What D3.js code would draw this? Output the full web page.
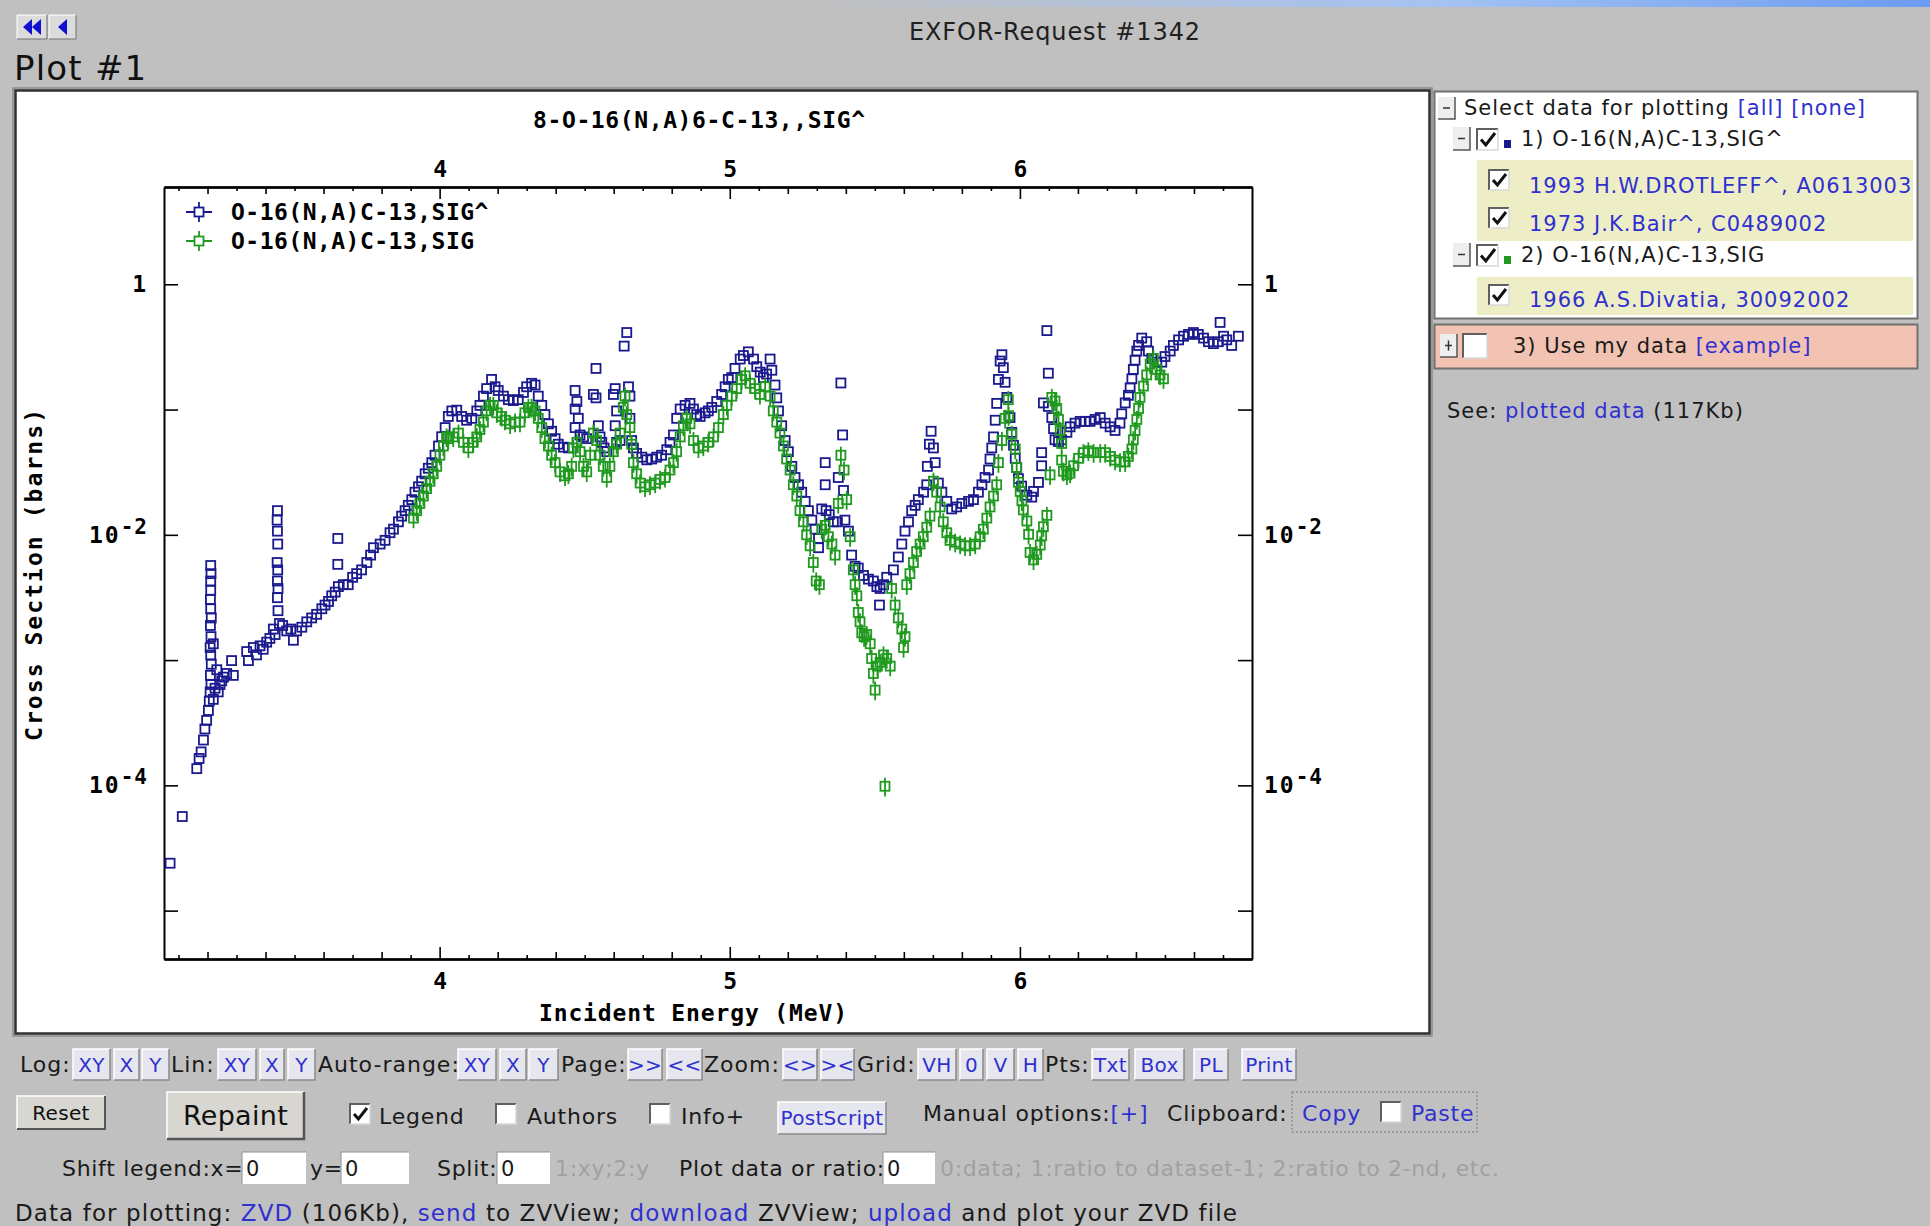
<!DOCTYPE html>
<html>
<head>
<meta charset="utf-8">
<script src="https://cdn.jsdelivr.net/npm/d3@7"></script>
<style>
body { margin: 0; background: #c0c0c0; }
svg { display: block; }
</style>
</head>
<body>
<script>
// O-16(N,A)C-13,SIG^  (1993 Drotleff + 1973 Bair), [E MeV, sigma barns]
var sigHatPoints = [
  [3.071,2.39e-5],[3.113,5.64e-5],[3.163,1.36e-4],[3.171,1.64e-4],[3.178,1.85e-4],[3.186,2.30e-4],[3.191,2.82e-4],[3.197,3.30e-4],[3.203,3.96e-4],[3.206,4.70e-4],
  [3.209,5.57e-4],[3.212,6.38e-4],[3.210,7.56e-4],[3.213,9.27e-4],[3.211,1.10e-3],[3.209,1.26e-3],[3.212,1.54e-3],[3.210,1.89e-3],[3.213,2.17e-3],[3.211,2.57e-3],
  [3.210,3.05e-3],[3.211,3.61e-3],[3.211,4.28e-3],[3.212,4.90e-3],[3.211,5.69e-3],
  [3.220,4.86e-4],[3.226,5.96e-4],[3.232,8.38e-4],[3.237,5.57e-4],[3.243,6.38e-4],[3.249,6.83e-4],[3.255,7.31e-4],[3.220,1.35e-3],[3.266,7.82e-4],[3.283,9.91e-4],[3.289,7.55e-4],
  [3.335,1.17e-3],[3.341,9.91e-4],[3.358,1.26e-3],[3.369,1.10e-3],[3.381,1.30e-3],[3.392,1.22e-3],[3.404,1.39e-3],[3.415,1.49e-3],[3.427,1.77e-3],[3.433,1.60e-3],
  [3.441,1.56e-2],[3.440,1.31e-2],[3.441,1.07e-2],[3.442,8.44e-3],[3.440,6.01e-3],[3.442,5.25e-3],[3.441,4.28e-3],[3.443,3.73e-3],[3.441,3.15e-3],[3.443,2.48e-3],
  [3.448,1.96e-3],[3.459,1.89e-3],[3.473,1.71e-3],[3.487,1.77e-3],[3.496,1.44e-3],[3.507,1.71e-3],[3.525,1.83e-3],[3.542,2.02e-3],[3.559,2.17e-3],[3.576,2.32e-3],
  [3.594,2.57e-3],[3.605,2.75e-3],[3.617,2.94e-3],[3.628,3.26e-3],[3.640,3.49e-3],[3.651,3.86e-3],[3.649,9.35e-3],[3.649,5.81e-3],
  [3.668,4.00e-3],[3.685,4.00e-3],[3.700,4.58e-3],[3.714,4.90e-3],[3.731,5.25e-3],[3.749,6.01e-3],[3.762,6.89e-3],[3.772,7.89e-3],[3.795,8.44e-3],[3.812,9.04e-3],
  [3.829,1.04e-2],[3.841,1.11e-2],[3.858,1.27e-2],[3.869,1.41e-2],[3.881,1.56e-2],[3.892,1.72e-2],[3.904,1.91e-2],[3.915,2.19e-2],[3.927,2.42e-2],[3.938,2.68e-2],
  [3.950,3.07e-2],[3.961,3.40e-2],[3.973,3.77e-2],[3.984,4.32e-2],[3.996,5.12e-2],[4.007,6.07e-2],[4.019,7.18e-2],[4.030,8.81e-2],
  [4.042,9.75e-2],[4.059,9.89e-2],[4.076,8.81e-2],[4.093,8.22e-2],[4.111,8.51e-2],[4.128,9.75e-2],[4.139,0.108],[4.151,0.128],[4.162,0.147],[4.179,0.174],
  [4.191,0.152],[4.202,0.142],[4.220,0.128],[4.237,0.120],[4.254,0.118],[4.271,0.120],[4.289,0.137],[4.300,0.152],[4.317,0.162],[4.329,0.157],
  [4.340,0.128],[4.352,0.108],[4.363,9.12e-2],[4.375,7.69e-2],[4.386,6.71e-2],[4.398,5.86e-2],[4.409,5.29e-2],[4.427,5.01e-2],[4.444,4.94e-2],
  [4.467,0.142],[4.473,0.116],[4.467,0.101],[4.478,8.51e-2],[4.467,7.18e-2],[4.484,6.27e-2],[4.496,6.05e-2],[4.507,5.86e-2],[4.539,0.213],[4.530,0.132],
  [4.539,0.124],[4.547,7.43e-2],[4.553,6.05e-2],[4.559,5.47e-2],[4.567,4.94e-2],[4.576,4.61e-2],[4.599,0.132],[4.605,0.147],[4.651,0.152],[4.610,9.75e-2],
  [4.605,7.43e-2],[4.610,5.47e-2],[4.622,5.66e-2],[4.636,0.321],[4.645,0.412],[4.656,0.128],[4.656,8.51e-2],[4.662,5.66e-2],[4.668,4.94e-2],[4.679,4.47e-2],
  [4.697,4.17e-2],[4.714,3.97e-2],[4.731,4.03e-2],[4.748,4.17e-2],[4.765,4.32e-2],[4.783,4.78e-2],[4.794,5.47e-2],[4.806,6.27e-2],[4.817,8.51e-2],[4.829,0.101],
  [4.846,0.108],[4.863,0.112],[4.875,0.101],[4.886,9.12e-2],[4.898,8.81e-2],[4.915,9.42e-2],[4.926,9.75e-2],[4.938,0.104],[4.955,0.116],[4.972,0.132],
  [4.984,0.152],[4.995,0.174],[5.007,0.180],[5.018,0.213],[5.036,0.253],[5.047,0.270],[5.064,0.289],[5.082,0.253],[5.093,0.220],[5.105,0.199],
  [5.116,0.180],[5.127,0.192],[5.139,0.253],[5.145,0.206],[5.156,0.157],[5.162,0.124],[5.168,9.75e-2],[5.179,7.43e-2],[5.191,5.66e-2],[5.202,4.61e-2],
  [5.214,3.52e-2],[5.225,2.87e-2],[5.237,2.51e-2],[5.248,2.19e-2],[5.260,1.85e-2],[5.271,1.56e-2],[5.283,1.31e-2],[5.294,1.11e-2],[5.306,9.35e-3],[5.306,7.89e-3],
  [5.317,1.61e-2],[5.332,1.56e-2],[5.329,2.51e-2],[5.329,3.77e-2],[5.343,1.45e-2],[5.357,1.27e-2],[5.371,1.27e-2],[5.374,2.87e-2],[5.383,0.163],[5.389,6.27e-2],
  [5.392,2.26e-2],[5.397,1.31e-2],[5.409,1.07e-2],[5.420,6.89e-3],[5.432,5.61e-3],[5.443,5.43e-3],[5.461,4.74e-3],[5.478,4.43e-3],[5.495,4.28e-3],[5.507,3.86e-3],
  [5.518,3.73e-3],[5.516,2.75e-3],[5.530,4.00e-3],[5.541,4.58e-3],[5.564,5.25e-3],[5.581,6.65e-3],[5.593,8.44e-3],[5.604,1.07e-2],[5.616,1.27e-2],[5.627,1.56e-2],
  [5.639,1.72e-2],[5.650,1.91e-2],[5.668,2.19e-2],[5.679,2.51e-2],[5.681,3.52e-2],[5.688,5.29e-2],[5.694,6.71e-2],[5.702,4.94e-2],[5.708,3.77e-2],[5.719,2.59e-2],
  [5.731,2.19e-2],[5.748,1.85e-2],[5.765,1.61e-2],[5.782,1.67e-2],[5.800,1.78e-2],[5.823,1.85e-2],[5.840,1.91e-2],[5.857,2.19e-2],[5.869,2.51e-2],[5.880,2.87e-2],
  [5.892,3.29e-2],[5.897,4.03e-2],[5.903,4.94e-2],[5.909,6.05e-2],[5.915,8.22e-2],[5.920,0.112],[5.926,0.174],[5.932,0.244],[5.938,0.274],[5.943,0.216],
  [5.949,0.165],[5.955,0.125],[5.966,8.63e-2],[5.972,6.58e-2],[5.978,5.19e-2],[5.984,4.08e-2],[5.989,3.45e-2],[5.995,2.81e-2],[6.006,2.45e-2],[6.024,2.07e-2],
  [6.041,2.00e-2],[6.047,2.22e-2],[6.064,2.62e-2],[6.075,3.56e-2],[6.075,4.53e-2],[6.093,0.427],[6.098,0.195],[6.081,0.113],[6.098,0.106],[6.110,8.63e-2],
  [6.116,7.04e-2],[6.121,5.74e-2],[6.133,5.55e-2],[6.144,5.74e-2],[6.162,6.58e-2],[6.173,7.28e-2],[6.190,7.79e-2],[6.208,8.05e-2],[6.225,8.05e-2],[6.242,8.05e-2],
  [6.259,8.34e-2],[6.277,8.63e-2],[6.294,7.79e-2],[6.311,7.28e-2],[6.328,6.81e-2],[6.345,7.79e-2],[6.351,9.25e-2],[6.363,0.113],[6.374,0.130],[6.380,0.149],
  [6.386,0.176],[6.391,0.209],[6.397,0.248],[6.403,0.293],[6.409,0.325],[6.420,0.372],[6.437,0.348],[6.443,0.293],[6.455,0.256],[6.472,0.239],
  [6.489,0.239],[6.500,0.265],[6.518,0.293],[6.529,0.325],[6.547,0.360],[6.564,0.385],[6.581,0.398],[6.598,0.412],[6.615,0.398],[6.633,0.372],
  [6.650,0.348],[6.667,0.336],[6.684,0.348],[6.690,0.496],[6.702,0.385],[6.713,0.360],[6.730,0.325],[6.753,0.385]
];

// O-16(N,A)C-13,SIG  (1966 Divatia), [E MeV, sigma barns]
var sigPoints = [
  [3.910,1.36e-2],[3.921,1.56e-2],[3.932,1.78e-2],[3.944,2.04e-2],[3.955,2.34e-2],[3.967,2.68e-2],[3.978,3.07e-2],[3.990,3.52e-2],[4.001,4.32e-2],[4.013,5.12e-2],
  [4.024,6.05e-2],[4.030,5.86e-2],[4.047,6.05e-2],[4.065,6.49e-2],[4.082,5.47e-2],[4.099,4.94e-2],[4.116,5.47e-2],[4.128,6.05e-2],[4.139,6.93e-2],[4.151,7.94e-2],
  [4.162,9.75e-2],[4.174,0.108],[4.185,0.108],[4.197,9.42e-2],[4.214,8.81e-2],[4.225,8.22e-2],[4.243,7.69e-2],[4.260,7.94e-2],[4.277,7.94e-2],[4.294,9.42e-2],
  [4.306,0.104],[4.317,0.104],[4.329,9.75e-2],[4.340,8.51e-2],[4.352,7.18e-2],[4.363,5.86e-2],[4.375,5.12e-2],[4.386,4.32e-2],[4.398,3.77e-2],[4.415,3.18e-2],
  [4.432,2.96e-2],[4.444,3.07e-2],[4.455,3.52e-2],[4.461,4.94e-2],[4.473,5.47e-2],[4.484,4.61e-2],[4.496,3.52e-2],[4.507,3.18e-2],[4.519,4.32e-2],[4.530,6.49e-2],
  [4.541,5.66e-2],[4.553,4.32e-2],[4.564,3.52e-2],[4.576,2.87e-2],[4.587,3.52e-2],[4.599,4.61e-2],[4.610,5.29e-2],[4.622,6.49e-2],[4.633,0.104],[4.639,0.128],
  [4.645,9.12e-2],[4.656,7.18e-2],[4.662,5.29e-2],[4.668,3.77e-2],[4.679,3.07e-2],[4.691,2.59e-2],[4.708,2.42e-2],[4.725,2.51e-2],[4.743,2.59e-2],[4.760,2.77e-2],
  [4.777,2.87e-2],[4.794,3.29e-2],[4.806,3.77e-2],[4.817,4.61e-2],[4.829,6.05e-2],[4.840,7.43e-2],[4.852,8.51e-2],[4.863,7.69e-2],[4.875,5.66e-2],[4.892,4.94e-2],
  [4.909,5.12e-2],[4.926,5.47e-2],[4.944,6.05e-2],[4.961,7.18e-2],[4.978,9.12e-2],[4.990,0.108],
  [5.007,0.128],[5.024,0.147],[5.041,0.174],[5.053,0.186],[5.070,0.162],[5.087,0.147],[5.104,0.132],[5.122,0.152],[5.139,0.128],[5.150,9.75e-2],
  [5.162,7.94e-2],[5.173,6.49e-2],[5.185,5.12e-2],[5.196,4.03e-2],[5.208,3.29e-2],[5.219,2.51e-2],[5.231,2.04e-2],[5.242,1.56e-2],[5.254,1.27e-2],[5.265,1.00e-2],
  [5.277,8.17e-3],[5.288,6.01e-3],[5.298,4.28e-3],[5.309,4.00e-3],[5.317,1.11e-2],[5.329,1.19e-2],[5.340,9.66e-3],[5.352,8.44e-3],[5.363,6.89e-3],[5.374,1.78e-2],
  [5.383,4.32e-2],[5.394,3.29e-2],[5.403,1.91e-2],[5.415,9.66e-3],[5.426,5.25e-3],[5.432,4.00e-3],[5.438,3.26e-3],[5.443,2.40e-3],[5.449,2.02e-3],[5.455,1.65e-3],
  [5.463,1.54e-3],[5.472,1.60e-3],[5.484,1.35e-3],[5.489,1.03e-3],[5.495,7.82e-4],[5.501,5.76e-4],[5.509,8.95e-4],[5.518,9.59e-4],[5.530,1.10e-3],[5.541,1.03e-3],
  [5.553,8.95e-4],[5.535,9.84e-5],[5.558,3.73e-3],[5.570,2.75e-3],[5.581,2.17e-3],[5.593,1.77e-3],[5.604,1.54e-3],[5.599,1.26e-3],[5.610,4.00e-3],[5.621,4.90e-3],
  [5.633,6.01e-3],[5.644,7.36e-3],[5.656,8.44e-3],[5.667,9.66e-3],[5.679,1.15e-2],[5.690,1.41e-2],[5.702,2.68e-2],[5.713,2.19e-2],[5.725,1.67e-2],[5.736,1.27e-2],
  [5.748,1.04e-2],[5.759,9.04e-3],[5.777,8.73e-3],[5.794,8.44e-3],[5.811,8.17e-3],[5.828,8.17e-3],[5.846,8.44e-3],[5.863,9.66e-3],[5.874,1.11e-2],[5.886,1.36e-2],
  [5.897,1.67e-2],[5.909,2.04e-2],[5.920,2.51e-2],[5.926,3.77e-2],[5.938,5.66e-2],[5.949,8.51e-2],[5.960,0.120],
  [5.961,8.93e-2],[5.972,6.35e-2],[5.984,4.84e-2],[5.989,3.45e-2],[5.995,2.63e-2],[6.001,2.22e-2],[6.007,1.87e-2],[6.012,1.58e-2],[6.024,1.29e-2],[6.030,1.01e-2],
  [6.035,7.22e-3],[6.047,6.31e-3],[6.058,6.98e-3],[6.070,8.28e-3],[6.075,9.82e-3],[6.081,1.16e-2],[6.093,1.43e-2],[6.104,3.01e-2],[6.110,0.125],[6.121,0.117],
  [6.127,0.102],[6.133,8.34e-2],[6.139,6.81e-2],[6.144,5.36e-2],[6.144,3.95e-2],[6.150,3.22e-2],[6.162,3.01e-2],[6.173,3.11e-2],[6.185,3.56e-2],[6.202,4.08e-2],
  [6.219,4.53e-2],[6.236,4.68e-2],[6.254,4.53e-2],[6.277,4.53e-2],[6.294,4.53e-2],[6.311,4.23e-2],[6.328,3.95e-2],[6.345,3.82e-2],[6.363,3.82e-2],[6.374,4.23e-2],
  [6.386,4.84e-2],[6.391,5.74e-2],[6.397,6.81e-2],[6.403,8.34e-2],[6.409,0.102],[6.414,0.125],[6.426,0.154],[6.437,0.189],[6.449,0.231],[6.460,0.256],
  [6.472,0.209],[6.483,0.189],[6.495,0.176]
];
// relative uncertainty of the Divatia points
var sigRelErr = 0.17;

var seriesNames = ["O-16(N,A)C-13,SIG^", "O-16(N,A)C-13,SIG"];
var seriesColors = ["#1a1a8e", "#1f9a1f"];
var plotTitle = "8-O-16(N,A)6-C-13,,SIG^";
var xTitle = "Incident Energy (MeV)";
var yTitle = "Cross Section (barns)";
var xLabelTicks = [4, 5, 6];
var yDecadeTicks = [1e-5, 1e-4, 1e-3, 1e-2, 1e-1, 1];
var yLabelTicks = [1, 1e-2, 1e-4];
var yLabelParts = [["1", ""], ["10", "-2"], ["10", "-4"]];

var W = 1930, H = 1226;
var sans = "'DejaVu Sans', Verdana, sans-serif";
var mono = "'DejaVu Sans Mono', monospace";
var linkBlue = "#3030d0";

var svg = d3.select("body").append("svg").attr("width", W).attr("height", H);

// top gradient strip
var defs = svg.append("defs");
var grad = defs.append("linearGradient").attr("id", "topbar");
grad.append("stop").attr("offset", "0.42").attr("stop-color", "#c0c0c0");
grad.append("stop").attr("offset", "0.75").attr("stop-color", "#a4c2f2");
grad.append("stop").attr("offset", "1").attr("stop-color", "#6c9cf0");
svg.append("rect").attr("x", 0).attr("y", 0).attr("width", W).attr("height", 7).attr("fill", "url(#topbar)");

// nav buttons
function navButton(x0, w, n) {
    var g = svg.append("g");
    g.append("rect").attr("x", x0).attr("y", 15).attr("width", w).attr("height", 24).attr("fill", "#dcdcdc");
    g.append("path").attr("d", "M" + x0 + ",39V15H" + (x0 + w)).attr("stroke", "#fff").attr("fill", "none");
    g.append("path").attr("d", "M" + x0 + ",39H" + (x0 + w) + "V15").attr("stroke", "#707070").attr("fill", "none");
    for (var i = 0; i < n; i++) {
        var tx = x0 + w / 2 - (n * 9) / 2 + i * 9;
        g.append("path").attr("d", "M" + tx + ",27L" + (tx + 9) + ",19V35Z").attr("fill", "#1010d0");
    }
}
navButton(17, 30, 2);
navButton(49, 27, 1);

svg.append("text").attr("x", 1055).attr("y", 40).attr("text-anchor", "middle")
    .attr("font-family", sans).attr("font-size", 24).attr("letter-spacing", 0.9)
    .attr("fill", "#202020").text("EXFOR-Request #1342");
svg.append("text").attr("x", 14).attr("y", 80)
    .attr("font-family", sans).attr("font-size", 34).attr("letter-spacing", 1.2)
    .attr("fill", "#111").text("Plot #1");

// plot frame
svg.append("rect").attr("x", 13).attr("y", 88).attr("width", 1419).attr("height", 948)
    .attr("fill", "none").attr("stroke", "#8a8a8a").attr("stroke-width", 1.5);
svg.append("rect").attr("x", 15.5).attr("y", 90.5).attr("width", 1414).attr("height", 943)
    .attr("fill", "#fff").attr("stroke", "#303030").attr("stroke-width", 2.5);

// scales
var x = d3.scaleLinear().domain([3.05, 6.80]).range([164, 1252]);
var y = d3.scaleLog().domain([4.11e-6, 5.98]).range([959, 187]);

var plot = svg.append("g");

function styleAxis(g) {
    g.attr("font-family", mono).attr("font-size", 23).attr("font-weight", "bold");
    g.select(".domain").attr("stroke", "#000").attr("stroke-width", 2);
    g.selectAll(".tick line").attr("stroke", "#000").attr("stroke-width", 1.6);
    g.selectAll(".tick text").attr("fill", "#000");
}

var xMinor = d3.range(31, 68).map(function(d) { return d / 10; })
    .filter(function(d) { return Math.abs(d - Math.round(d)) > 1e-6; });
var xMid = xMinor.filter(function(d) { return Math.round(d * 10) % 2 === 0; });
var xSmall = xMinor.filter(function(d) { return Math.round(d * 10) % 2 !== 0; });

function xAxes(gen, yPos, pad) {
    plot.append("g").attr("transform", "translate(0," + yPos + ")")
        .call(gen(x).tickValues(xSmall).tickSize(-4).tickSizeOuter(0).tickFormat(""))
        .call(styleAxis);
    plot.append("g").attr("transform", "translate(0," + yPos + ")")
        .call(gen(x).tickValues(xMid).tickSize(-7).tickSizeOuter(0).tickFormat(""))
        .call(styleAxis);
    plot.append("g").attr("transform", "translate(0," + yPos + ")")
        .call(gen(x).tickValues(xLabelTicks).tickSize(-12).tickSizeOuter(0).tickPadding(pad).tickFormat(d3.format("d")))
        .call(styleAxis);
}
xAxes(d3.axisBottom, 959, 14);
xAxes(d3.axisTop, 187, 10);

function yLabel(sel) {
    sel.selectAll(".tick text").each(function(d) {
        var t = d3.select(this).text("");
        var k = yLabelTicks.indexOf(d);
        if (k < 0) return;
        t.append("tspan").attr("letter-spacing", 2).text(yLabelParts[k][0]);
        if (yLabelParts[k][1]) {
            t.append("tspan").attr("dy", -9).attr("font-size", 21).attr("letter-spacing", 1).text(yLabelParts[k][1]);
        }
    });
}
plot.append("g").attr("transform", "translate(164,0)")
    .call(d3.axisLeft(y).tickValues(yDecadeTicks).tickSize(-14).tickSizeOuter(0).tickPadding(16))
    .call(styleAxis).call(yLabel);
plot.append("g").attr("transform", "translate(1252,0)")
    .call(d3.axisRight(y).tickValues(yDecadeTicks).tickSize(-14).tickSizeOuter(0).tickPadding(12))
    .call(styleAxis).call(yLabel);

// titles
function monoText(s, len) {
    return plot.append("text").attr("text-anchor", "middle")
        .attr("font-family", mono).attr("font-weight", "bold").attr("font-size", 23)
        .attr("textLength", len).attr("lengthAdjust", "spacing").text(s);
}
monoText(plotTitle, 332).attr("x", 699).attr("y", 128);
monoText(xTitle, 308).attr("x", 693).attr("y", 1021);
monoText(yTitle, 332).attr("transform", "translate(42,575) rotate(-90)");

// data marks
var sq = 9;
var blue = plot.append("g").attr("fill", "none").attr("stroke", seriesColors[0]).attr("stroke-width", 1.8);
blue.selectAll("rect").data(sigHatPoints).enter().append("rect")
    .attr("x", function(d) { return x(d[0]) - sq / 2; })
    .attr("y", function(d) { return y(d[1]) - sq / 2; })
    .attr("width", sq).attr("height", sq);

var green = plot.append("g").attr("fill", "none").attr("stroke", seriesColors[1]).attr("stroke-width", 1.8);
green.selectAll("line").data(sigPoints).enter().append("line")
    .attr("x1", function(d) { return x(d[0]); })
    .attr("x2", function(d) { return x(d[0]); })
    .attr("y1", function(d) { return y(d[1] * (1 + sigRelErr)); })
    .attr("y2", function(d) { return y(d[1] * (1 - sigRelErr)); });
green.selectAll("rect").data(sigPoints).enter().append("rect")
    .attr("x", function(d) { return x(d[0]) - sq / 2; })
    .attr("y", function(d) { return y(d[1]) - sq / 2; })
    .attr("width", sq).attr("height", sq);

// legend
var legend = plot.append("g").selectAll("g").data(seriesNames).enter().append("g")
    .attr("transform", function(d, i) { return "translate(199," + (212 + i * 29) + ")"; });
legend.append("path").attr("d", "M-13,0H13M0,-10V10")
    .attr("stroke", function(d, i) { return seriesColors[i]; }).attr("stroke-width", 1.8);
legend.append("rect").attr("x", -4.5).attr("y", -4.5).attr("width", 9).attr("height", 9)
    .attr("fill", "#fff").attr("stroke", function(d, i) { return seriesColors[i]; }).attr("stroke-width", 1.8);
legend.append("text").attr("x", 32).attr("y", 8)
    .attr("font-family", mono).attr("font-weight", "bold").attr("font-size", 23)
    .attr("textLength", function(d) { return d.length * 14.3; }).attr("lengthAdjust", "spacing")
    .text(function(d) { return d; });

// ---------- page widgets ----------
function txt(x0, y0, s, opt) {
    opt = opt || {};
    return svg.append("text").attr("x", x0).attr("y", y0)
        .attr("font-family", sans).attr("font-size", opt.size || 22)
        .attr("letter-spacing", opt.ls === undefined ? 0.8 : opt.ls)
        .attr("fill", opt.color || "#1a1a1a").attr("text-anchor", opt.anchor || "start").text(s);
}
function runs(x0, y0, parts, size, ls) {
    var t = svg.append("text").attr("x", x0).attr("y", y0).attr("font-family", sans)
        .attr("font-size", size || 22).attr("letter-spacing", ls === undefined ? 0.8 : ls);
    parts.forEach(function(p) {
        t.append("tspan").attr("fill", p[1] ? linkBlue : "#1a1a1a").text(p[0]);
    });
    return t;
}
function button(x0, x1, y0, y1, label, opt) {
    opt = opt || {};
    svg.append("rect").attr("x", x0).attr("y", y0).attr("width", x1 - x0).attr("height", y1 - y0)
        .attr("fill", opt.fill || "#e6e6ee");
    svg.append("path").attr("d", "M" + x0 + "," + y1 + "V" + y0 + "H" + x1)
        .attr("stroke", "#fff").attr("stroke-width", 1.5).attr("fill", "none");
    svg.append("path").attr("d", "M" + x0 + "," + y1 + "H" + x1 + "V" + y0)
        .attr("stroke", opt.dark || "#8a8a8a").attr("stroke-width", opt.bw || 1.5).attr("fill", "none");
    txt((x0 + x1) / 2, (y0 + y1) / 2 + (opt.size || 20) * 0.36, label,
        { size: opt.size || 20, color: opt.color || linkBlue, anchor: "middle", ls: 0.3 });
}
function checkbox(x0, y0, s, checked) {
    svg.append("rect").attr("x", x0).attr("y", y0).attr("width", s).attr("height", s).attr("fill", "#fff");
    svg.append("path").attr("d", "M" + x0 + "," + (y0 + s) + "V" + y0 + "H" + (x0 + s))
        .attr("stroke", "#606060").attr("stroke-width", 2).attr("fill", "none");
    svg.append("path").attr("d", "M" + x0 + "," + (y0 + s) + "H" + (x0 + s) + "V" + y0)
        .attr("stroke", "#d8d8d8").attr("stroke-width", 1.5).attr("fill", "none");
    if (checked) {
        svg.append("path").attr("d", "M" + (x0 + 4) + "," + (y0 + s * 0.5) + "L" + (x0 + s * 0.42) + "," + (y0 + s - 5) +
            "L" + (x0 + s - 3) + "," + (y0 + 4))
            .attr("stroke", "#111").attr("stroke-width", 3).attr("fill", "none");
    }
}
function treeBox(x0, y0, w, h, sign) {
    svg.append("rect").attr("x", x0).attr("y", y0).attr("width", w).attr("height", h).attr("fill", "#eeeeee");
    svg.append("path").attr("d", "M" + x0 + "," + (y0 + h) + "H" + (x0 + w) + "V" + y0)
        .attr("stroke", "#555").attr("stroke-width", 1.5).attr("fill", "none");
    svg.append("path").attr("d", "M" + (x0 + 5) + "," + (y0 + h / 2) + "H" + (x0 + w - 5) +
        (sign === "+" ? "M" + (x0 + w / 2) + "," + (y0 + h / 2 - 5) + "V" + (y0 + h / 2 + 5) : ""))
        .attr("stroke", "#333").attr("stroke-width", 1.5);
}

// right panel
var rp = { size: 21, ls: 1 };
svg.append("rect").attr("x", 1434.5).attr("y", 91.5).attr("width", 483).attr("height", 227)
    .attr("fill", "#fff").attr("stroke", "#707070").attr("stroke-width", 2);
treeBox(1438, 97, 17, 22, "-");
runs(1464, 115, [["Select data for plotting ", 0], ["[all] [none]", 1]], rp.size, rp.ls);
treeBox(1453, 127, 17, 23, "-");
checkbox(1477, 129, 21, true);
svg.append("rect").attr("x", 1504).attr("y", 140).attr("width", 7).attr("height", 8).attr("fill", seriesColors[0]);
txt(1521, 146, "1) O-16(N,A)C-13,SIG^", rp);
svg.append("rect").attr("x", 1477).attr("y", 160).attr("width", 436).attr("height", 81).attr("fill", "#eeeec6");
checkbox(1489, 170, 20, true);
checkbox(1489, 208, 20, true);
txt(1529, 193, "1993 H.W.DROTLEFF^, A0613003", { size: 21, ls: 1, color: linkBlue });
txt(1529, 231, "1973 J.K.Bair^, C0489002", { size: 21, ls: 1, color: linkBlue });
treeBox(1453, 243, 17, 23, "-");
checkbox(1477, 245, 21, true);
svg.append("rect").attr("x", 1504).attr("y", 256).attr("width", 7).attr("height", 8).attr("fill", seriesColors[1]);
txt(1521, 262, "2) O-16(N,A)C-13,SIG", rp);
svg.append("rect").attr("x", 1477).attr("y", 277).attr("width", 436).attr("height", 38).attr("fill", "#eeeec6");
checkbox(1489, 285, 20, true);
txt(1529, 307, "1966 A.S.Divatia, 30092002", { size: 21, ls: 1, color: linkBlue });

svg.append("rect").attr("x", 1434.5).attr("y", 324.5).attr("width", 483).attr("height", 44)
    .attr("fill", "#f2c2b2").attr("stroke", "#707070").attr("stroke-width", 2);
treeBox(1440, 334, 17, 23, "+");
checkbox(1463, 334, 24, false);
runs(1513, 353, [["3) Use my data ", 0], ["[example]", 1]], rp.size, rp.ls);
runs(1447, 418, [["See: ", 0], ["plotted data", 1], [" (117Kb)", 0]], rp.size, rp.ls);

// control row 1
var r1 = [
    ["Log:", 20], ["XY", 73, 110], ["X", 114, 139], ["Y", 142, 169],
    ["Lin:", 171], ["XY", 218, 256], ["X", 260, 284], ["Y", 288, 315],
    ["Auto-range:", 318], ["XY", 458, 496], ["X", 500, 526], ["Y", 529, 558],
    ["Page:", 561], [">>", 628, 662], ["<<", 667, 702],
    ["Zoom:", 704], ["<>", 783, 817], ["><", 821, 854],
    ["Grid:", 857], ["VH", 918, 956], ["0", 960, 983], ["V", 987, 1014], ["H", 1018, 1043],
    ["Pts:", 1045], ["Txt", 1092, 1129], ["Box", 1135, 1184], ["PL", 1194, 1228], ["Print", 1242, 1296]
];
r1.forEach(function(it) {
    if (it.length === 2) txt(it[1], 1072, it[0], { ls: 1 });
    else button(it[1], it[2], 1049, 1080, it[0], { size: 20 });
});

// control row 2
button(17, 105, 1096, 1129, "Reset", { fill: "#d8d6d0", color: "#111", size: 20, dark: "#555", bw: 2 });
button(167, 304, 1092, 1139, "Repaint", { fill: "#d8d6d0", color: "#111", size: 27, dark: "#555", bw: 2.5 });
checkbox(350, 1104, 20, true); txt(379, 1124, "Legend");
checkbox(496, 1104, 20, false); txt(527, 1124, "Authors");
checkbox(650, 1104, 20, false); txt(681, 1124, "Info+");
button(778, 886, 1102, 1134, "PostScript", { size: 20 });
runs(923, 1121, [["Manual options:", 0], ["[+]", 1]]);
txt(1167, 1121, "Clipboard:");
svg.append("rect").attr("x", 1292).attr("y", 1092).attr("width", 185).attr("height", 40)
    .attr("fill", "none").attr("stroke", "#777").attr("stroke-dasharray", "2,2");
txt(1302, 1121, "Copy", { color: linkBlue });
checkbox(1381, 1102, 20, false);
txt(1411, 1121, "Paste", { color: linkBlue });

// control row 3
function inputBox(x0, x1) {
    svg.append("rect").attr("x", x0).attr("y", 1152).attr("width", x1 - x0).attr("height", 32).attr("fill", "#fff");
    svg.append("path").attr("d", "M" + x0 + ",1184V1152H" + x1).attr("stroke", "#909090").attr("fill", "none");
    txt(x0 + 4, 1176, "0", { size: 21 });
}
var r3 = { ls: 0.7 };
txt(62, 1176, "Shift legend:x=", r3);
inputBox(242, 306);
txt(310, 1176, "y=", r3);
inputBox(341, 409);
txt(437, 1176, "Split:", r3);
inputBox(497, 550);
txt(555, 1176, "1:xy;2:y", { ls: 0.7, color: "#a0a0a0" });
txt(679, 1176, "Plot data or ratio:", r3);
inputBox(883, 935);
txt(940, 1176, "0:data; 1:ratio to dataset-1; 2:ratio to 2-nd, etc.", { ls: 0.65, color: "#a0a0a0" });

// row 4
runs(15, 1221, [["Data for plotting: ", 0], ["ZVD", 1], [" (106Kb), ", 0], ["send", 1], [" to ZVView; ", 0],
    ["download", 1], [" ZVView; ", 0], ["upload", 1], [" and plot your ZVD file", 0]], 23, 1.1);
</script>
</body>
</html>
